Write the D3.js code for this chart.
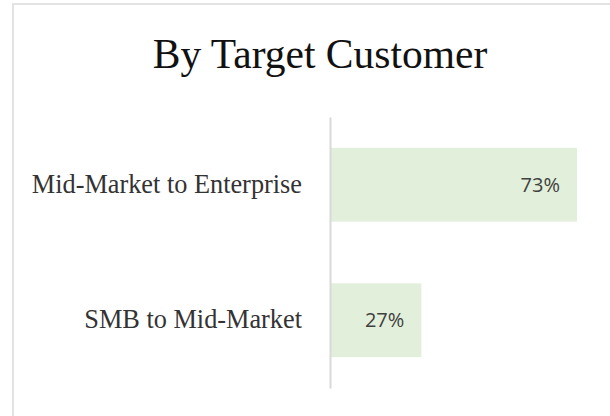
<!DOCTYPE html>
<html>
<head>
<meta charset="utf-8">
<script src="https://cdn.jsdelivr.net/npm/d3@7"></script>
<style>
  html, body { margin: 0; padding: 0; background: #fff; }
  svg { display: block; }
</style>
</head>
<body>
<div id="chart"></div>
<script>
const title = "By Target Customer";
const categories = ["Mid-Market to Enterprise", "SMB to Mid-Market"];
const values = [0.73, 0.27];
const valueLabels = ["73%", "27%"];

const W = 610, H = 416;
const svg = d3.select("#chart").append("svg").attr("width", W).attr("height", H);

svg.append("rect").attr("width", W).attr("height", H).attr("fill", "#fff");

// chart frame (extends beyond window on right/bottom)
svg.append("rect")
  .attr("x", 13).attr("y", 4)
  .attr("width", 700).attr("height", 500)
  .attr("fill", "none").attr("stroke", "#e3e3e3").attr("stroke-width", 2);

svg.append("text")
  .attr("x", 320).attr("y", 68)
  .attr("text-anchor", "middle")
  .attr("font-family", "'Liberation Serif', 'DejaVu Serif', serif")
  .attr("font-size", 41.5)
  .attr("fill", "#111")
  .text(title);

const x = d3.scaleLinear().domain([0, 0.73]).range([330, 577]);
const y = d3.scaleBand().domain(categories).range([117, 388]).paddingInner(0.455).paddingOuter(0.2275);

const g = svg.append("g");

g.selectAll("rect.bar").data(categories).join("rect")
  .attr("class", "bar")
  .attr("x", x(0))
  .attr("y", d => y(d))
  .attr("width", (d, i) => x(values[i]) - x(0))
  .attr("height", y.bandwidth())
  .attr("fill", "#e2efda");

// axis line
const yAxis = d3.axisLeft(y).tickSize(0).tickPadding(28);
const ax = svg.append("g").attr("transform", `translate(${x(0)},0)`).call(yAxis);
ax.select(".domain").attr("stroke", "#d9d9d9").attr("stroke-width", 2);
ax.selectAll(".tick text")
  .attr("font-family", "'Liberation Serif', 'DejaVu Serif', serif")
  .attr("font-size", 26.3)
  .attr("fill", "#333")
  .attr("dy", "0.3em");

g.selectAll("text.val").data(categories).join("text")
  .attr("class", "val")
  .attr("x", (d, i) => x(values[i]) - 17)
  .attr("y", d => y(d) + y.bandwidth() / 2)
  .attr("dy", "0.36em")
  .attr("text-anchor", "end")
  .attr("font-family", "'Open Sans', 'Liberation Sans', sans-serif")
  .attr("font-size", 20)
  .attr("fill", "#404040")
  .text((d, i) => valueLabels[i]);
</script>
</body>
</html>
